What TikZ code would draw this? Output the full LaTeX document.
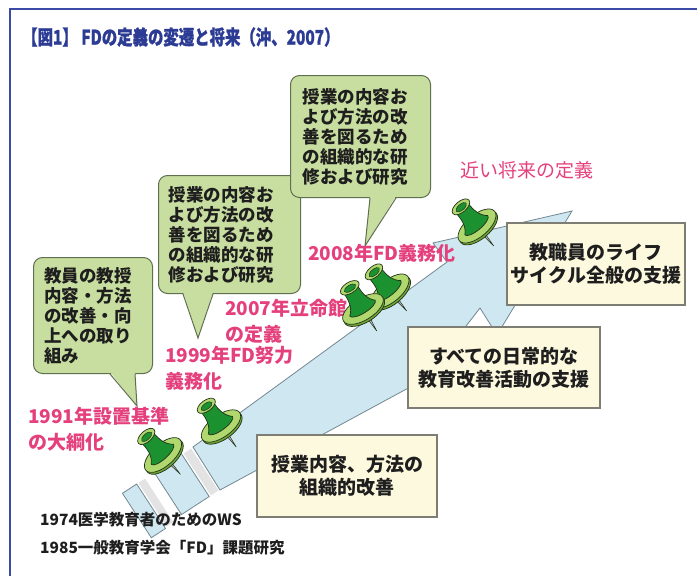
\documentclass[tikz,border=0pt]{standalone}
\usepackage{fontspec}
\usepackage{graphicx}
\newfontfamily\jp{Noto Sans CJK JP}
\usetikzlibrary{calc}

\definecolor{framenavy}{RGB}{58,76,165}
\definecolor{titlenavy}{RGB}{44,60,148}
\definecolor{pinktext}{RGB}{228,64,124}
\definecolor{bandfill}{RGB}{206,231,240}
\definecolor{bandline}{RGB}{115,135,145}
\definecolor{boxfill}{RGB}{253,249,222}
\definecolor{boxline}{RGB}{125,125,115}
\definecolor{bubblefill}{RGB}{200,222,160}
\definecolor{bubbleline}{RGB}{95,112,80}
\definecolor{pindark}{RGB}{28,145,48}
\definecolor{pinlight}{RGB}{176,216,110}
\definecolor{pinrim}{RGB}{110,165,55}
\definecolor{pinedge}{RGB}{35,50,25}
\definecolor{inktext}{RGB}{30,30,30}

\tikzset{
  band/.style={draw=bandline, fill=bandfill, line width=0.8pt},
  gapshade/.style={fill=black!11},
  infobox/.style={draw=boxline, fill=boxfill, line width=1.3pt, inner sep=0pt,
    align=center, text=inktext, font=\jp\bfseries\fontsize{19}{23}\selectfont},
  bubble/.style={draw=bubbleline, fill=bubblefill, line width=1pt, rounded corners=9pt,
    inner ysep=0pt, anchor=north west, align=left, text=inktext,
    font=\jp\bfseries\fontsize{17.5}{20}\selectfont},
  tailfill/.style={fill=bubblefill},
  tailline/.style={draw=bubbleline, line width=1pt},
  pinklabel/.style={anchor=north west, inner sep=0pt, align=left, text=pinktext,
    font=\jp\bfseries\fontsize{19}{26}\selectfont},
  note/.style={anchor=west, inner sep=0pt, text=inktext,
    font=\jp\bfseries\fontsize{15.5}{18}\selectfont},
  pushpin/.pic={
    % needle
    \draw[draw=pinedge, fill=gray!55, line width=0.5pt] (-2,3) -- (0,26) -- (2,3) -- cycle;
    % flat head (disc) with its rim
    \draw[draw=pinedge, fill=pinrim, line width=0.7pt] (0,2.5) ellipse[x radius=23, y radius=11];
    \draw[draw=pinedge, fill=pinlight, line width=0.7pt] (0,0) ellipse[x radius=23, y radius=11];
    % grip
    \draw[draw=pinedge, fill=pindark, line width=0.7pt]
      (8,-25) .. controls (7,-14) and (9,-6) .. (15,-1)
      arc[start angle=0, end angle=180, x radius=15, y radius=5]
      .. controls (-9,-6) and (-7,-14) .. (-8,-25) -- cycle;
    % top of the grip
    \draw[draw=pinedge, fill=pinlight, line width=0.7pt] (0,-25) ellipse[x radius=10.5, y radius=5.5];
    \draw[draw=pinedge, fill=pindark, line width=0.5pt] (0,-24.5) ellipse[x radius=6.5, y radius=3];
  }
}

\begin{document}
\begin{tikzpicture}[x=1pt, y=-1pt]
\useasboundingbox (0,0) rectangle (697,576);

% frame and title
\draw[framenavy, line width=1.6pt] (10,576) -- (10,9) -- (697,9);
\node[anchor=west, inner sep=0pt, text=titlenavy,
      font=\jp\bfseries\fontsize{20}{22}\selectfont\addfontfeatures{FakeBold=1.2}] (title) at (22,37)
  {\scalebox{0.77}[1]{【図1】 FDの定義の変遷と将来（沖、2007）}};

% widening arrow
\draw[band] (193,447) -- (447,262) -- (433,243) -- (572,211) -- (497,335)
  -- (480,308) -- (425,379) -- (220,490) -- cycle;

% tail stripes of the arrow
\begin{scope}[shift={(206.5,468.5)}, rotate=33]
  \fill[gapshade] (-65,-25) rectangle (-57,27);
  \draw[band] (-84,-25) rectangle (-67,28);
  \draw[band] (-46,-27) rectangle (-13,25);
  \fill[gapshade] (-11,-25) rectangle (-2,25);
\end{scope}

% stages
\node[infobox, minimum width=180pt, minimum height=82pt] (bx1) at (347,476)
  {授業内容、方法の\\組織的改善};
\node[infobox, minimum width=192pt, minimum height=81pt] (bx3) at (504,367.5)
  {すべての日常的な\\教育改善活動の支援};
\node[infobox, minimum width=178pt, minimum height=82pt] (bx2) at (596,264)
  {教職員のライフ\\サイクル全般の支援};

% speech bubbles
\node[bubble, text width=97pt, inner xsep=11pt, minimum height=116pt] (b1) at (33,257)
  {教員の教授\\内容・方法\\の改善・向\\上への取り\\組み};
\node[bubble, text width=122pt, inner xsep=10pt, minimum height=118pt] (b2) at (158,175)
  {授業の内容お\\よび方法の改\\善を図るため\\の組織的な研\\修および研究};
\node[bubble, text width=116pt, inner xsep=12pt, minimum height=122pt] (b3) at (290,75)
  {授業の内容お\\よび方法の改\\善を図るため\\の組織的な研\\修および研究};

\coordinate (t1) at (137,406);
\coordinate (t2) at (198,338);
\coordinate (t3) at (365,246);
\fill[tailfill] ($(b1.south west)+(77,-2)$) -- (t1) -- ($(b1.south west)+(102,-2)$) -- cycle;
\draw[tailline] ($(b1.south west)+(77,0)$) -- (t1) -- ($(b1.south west)+(102,0)$);
\fill[tailfill] ($(b2.south west)+(25,-2)$) -- (t2) -- ($(b2.south west)+(55,-2)$) -- cycle;
\draw[tailline] ($(b2.south west)+(25,0)$) -- (t2) -- ($(b2.south west)+(55,0)$);
\fill[tailfill] ($(b3.south west)+(80,-2)$) -- (t3) -- ($(b3.south west)+(106,-2)$) -- cycle;
\draw[tailline] ($(b3.south west)+(80,0)$) -- (t3) -- ($(b3.south west)+(106,0)$);

% milestones
\node[pinklabel] (l1991) at (28,407) {1991年設置基準\\の大綱化};
\node[pinklabel] (l1999) at (165,346) {1999年FD努力\\義務化};
\node[pinklabel] (l2007) at (225,299) {2007年立命館\\の定義};
\node[pinklabel] (l2008) at (308,244) {2008年FD義務化};
\node[pinklabel, font=\jp\fontsize{19}{26}\selectfont] (lnear) at (460,161) {近い将来の定義};

% pushpins
\pic[rotate=42] at (163,455) {pushpin};
\pic[rotate=36] at (221,426) {pushpin};
\pic[rotate=40] at (390,291) {pushpin};
\pic[rotate=32] at (363,309) {pushpin};
\pic[rotate=40] at (477,226) {pushpin};

% early events
\node[note] (n1974) at (40,520) {1974医学教育者のためのWS};
\node[note] (n1985) at (40,548) {1985一般教育学会「FD」課題研究};
\end{tikzpicture}
\end{document}
